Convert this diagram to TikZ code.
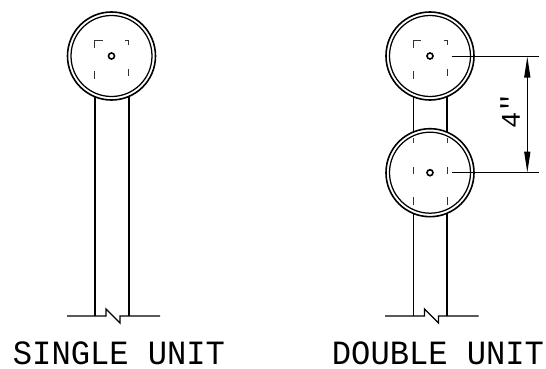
\documentclass[tikz,border=0pt]{standalone}
\usepackage{fontspec}
\setmainfont[FakeStretch=0.945]{Liberation Mono}
\newfontfamily\dimfont[Ligatures=NoCommon]{Liberation Mono}
\usetikzlibrary{arrows.meta}
\tikzset{
  every picture/.style={x=1pt,y=-1pt},
  line/.style={line width=1.6pt,black},
  thin line/.style={line width=1.25pt,black},
  tick/.style={line width=1pt,black!80},
  label text/.style={font=\fontsize{34pt}{34pt}\selectfont,inner sep=0pt,anchor=base},
  dim text/.style={font=\dimfont\fontsize{27pt}{27pt}\selectfont,inner sep=0pt,rotate=90}
}
\newcommand{\headtop}[2]{%
  \draw[tick] (#1-16.8,#2-8) -- (#1-16.8,#2-15.5) -- (#1-9,#2-15.5);
  \draw[tick] (#1+13.5,#2-15.5) -- (#1+17,#2-15.5) -- (#1+17,#2-11);
  \draw[tick] (#1-16.8,#2+15.5) -- (#1-16.8,#2+23);
  \draw[tick] (#1+17,#2+13) -- (#1+17,#2+20);
  \draw[line] (#1,#2) circle (3);
}
\begin{document}
\begin{tikzpicture}
\useasboundingbox (0,0) rectangle (546,369);
% single unit
\draw[line] (111.5,56) circle (44);
\draw[thin line] (111.5,56) circle (40.5);
\headtop{111.5}{56}
\draw[line] (94.7,97) -- (94.7,316);
\draw[line] (128.7,97) -- (128.7,316);
\draw[thin line] (67,316) -- (106,316) -- (106,309) -- (120,323) -- (120,316) -- (160,316);
\node[label text] (single) at (119,364) {SINGLE UNIT};
% double unit
\draw[line] (430,56) circle (44);
\draw[thin line] (430,56) circle (40.5);
\headtop{430}{56}
\draw[line] (430,172.7) circle (44);
\draw[thin line] (430,172.7) circle (40.5);
\draw[line] (430,172.7) circle (3);
\draw[line] (413.6,97) -- (413.6,132);
\draw[line] (447,97) -- (447,132);
\foreach \xx in {413.6,447}{
  \draw[tick] (\xx,138) -- (\xx,143);
  \draw[tick] (\xx,167) -- (\xx,173.5);
  \draw[tick] (\xx,197) -- (\xx,205);
}
\draw[line] (413.6,213) -- (413.6,316);
\draw[line] (447,213) -- (447,316);
\draw[thin line] (385,316) -- (424.5,316) -- (424.5,309) -- (438.5,323) -- (438.5,316) -- (478.5,316);
\node[label text] (double) at (438,364) {DOUBLE UNIT};
% dimension
\draw[thin line] (451.7,56.5) -- (539,56.5);
\draw[thin line] (451.7,172.7) -- (539,172.7);
\coordinate (dimtop) at (527.3,56.5);
\coordinate (dimbot) at (527.3,172.7);
\draw[thin line,{Triangle[length=21pt,width=6pt]}-{Triangle[length=21pt,width=6pt]}] (dimtop) -- (dimbot);
\node[dim text] (dim) at (510,110) {4\kern-2pt\char"27\kern-9pt\char"27};
\end{tikzpicture}
\end{document}
